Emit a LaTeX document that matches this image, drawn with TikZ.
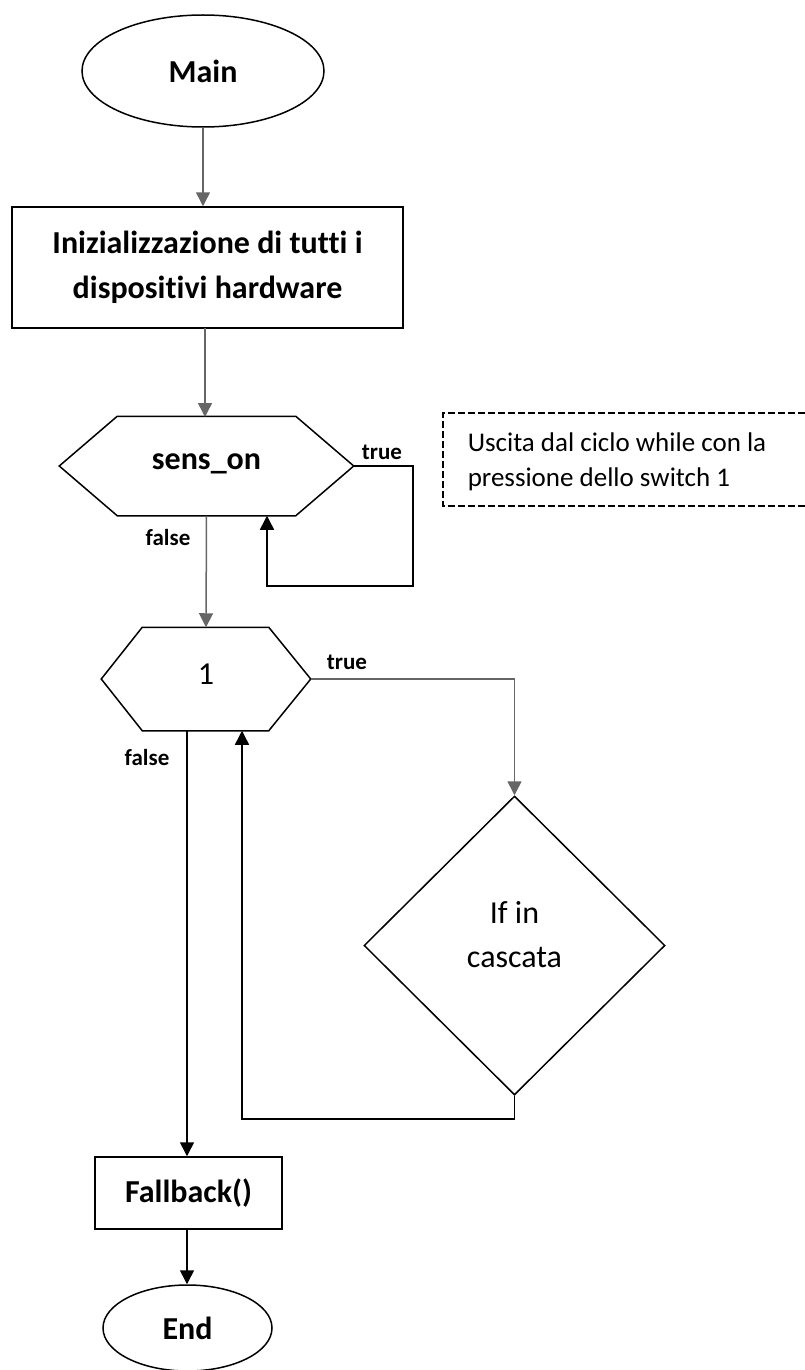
\documentclass[tikz,border=0pt]{standalone}
\usepackage{fontspec}
\setmainfont{Carlito}[Ligatures={NoCommon}]
\usetikzlibrary{shapes.geometric,arrows.meta,calc}
\begin{document}
\begin{tikzpicture}[x=1pt,y=-1pt,
  line width=1.5pt,
  big/.style={font=\fontsize{32}{45}\selectfont},
  lbl/.style={font=\fontsize{23}{26}\selectfont\bfseries, inner sep=0pt},
  term/.style={ellipse, draw, big, inner sep=0pt},
  proc/.style={rectangle, draw, big, inner sep=0pt, align=center},
  hexbase/.style={rectangle, inner sep=0pt, big},
  dec/.style={diamond, draw, inner sep=0pt},
  flow/.style={-{Triangle[length=14pt,width=14pt]}},
  gflow/.style={flow, draw=black!60},
  note/.style={dash pattern=on 7pt off 3pt, line width=1.3pt}
]
\useasboundingbox (0,0) rectangle (804,1370);

% nodes
\node[term, minimum width=242, minimum height=112] (main) at (203,71) {\bfseries Main};
\node[proc, minimum width=391, minimum height=121] (init) at (207.5,267.5)
  {\bfseries Inizializzazione di tutti i\\\bfseries dispositivi hardware};
\node[hexbase, minimum width=293, minimum height=98] (sens) at (206.5,466) {\raisebox{9pt}{\bfseries sens\_on}};
\draw (sens.west) -- ($(sens.north west)+(58,0)$) -- ($(sens.north east)+(-58,0)$) -- (sens.east)
  -- ($(sens.south east)+(-58,0)$) -- ($(sens.south west)+(58,0)$) -- cycle;
\node[hexbase, minimum width=208, minimum height=102] (one) at (206,679) {\raisebox{9pt}{1}};
\draw (one.west) -- ($(one.north west)+(41,0)$) -- ($(one.north east)+(-42,0)$) -- (one.east)
  -- ($(one.south east)+(-42,0)$) -- ($(one.south west)+(41,0)$) -- cycle;
\node[dec, minimum width=301, minimum height=299] (dia) at (514.5,945.5) {};
\node[font=\fontsize{32}{44}\selectfont, align=center, inner sep=0pt] (diatxt) at ($(dia.center)+(0,-10.5)$) {If in\\cascata};
\node[proc, minimum width=187, minimum height=72] (fall) at (188.5,1193) {\bfseries Fallback()};
\node[term, minimum width=169, minimum height=86] (end) at (187.5,1328) {\bfseries End};

% note
\node[font=\fontsize{27}{35}\selectfont, align=left, anchor=north west, inner sep=0pt] (notetxt) at (467,432)
  {Uscita dal ciclo while con la\\pressione dello switch 1};
\draw[note] (815,413) -- (443,413) -- (443,506) -- (815,506);

% labels
\node[lbl] (t1) at (382,452) {true};
\node[lbl] (f1) at (168,538) {false};
\node[lbl] (t2) at (347,662) {true};
\node[lbl] (f2) at (147,758) {false};

% coordinates
\coordinate (c1) at (413,586);
\coordinate (c2) at (267,586);
\coordinate (d1) at (513,1119);
\coordinate (d2) at (242,1119);
\coordinate (fa) at (187,730);

% connectors
\draw[gflow] (main.south) -- (main.south |- init.north);
\draw[gflow] (205,328) -- (205,417);
\draw[gflow] (sens.south) -- (one.north);
\draw[flow] (sens.east) -| (c1) -- (c2) -- (c2 |- sens.south);
\draw[gflow] (one.east) -| (dia.north);
\draw[flow] (fa) -- (fa |- fall.north);
\draw[flow] (dia.south) -- (dia.south |- d1) -- (d2) -- (d2 |- one.south);
\draw[flow] (fall.south -| fa) -- (fa |- end.north);
\end{tikzpicture}
\end{document}
